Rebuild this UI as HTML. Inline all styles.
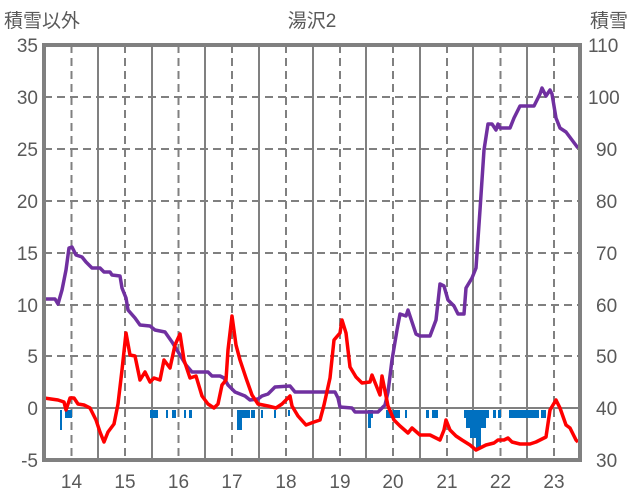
<!DOCTYPE html><html><head><meta charset="utf-8"><style>body{margin:0;background:#fff}svg{display:block}text{font-family:"Liberation Sans","Noto Sans CJK JP",sans-serif;fill:#595959}</style></head><body>
<svg width="636" height="501" xmlns="http://www.w3.org/2000/svg">
<g stroke="#bfbfbf" stroke-width="1.5">
</g>
<g stroke="#808080" stroke-width="2" stroke-dasharray="8,5">
<line x1="44" y1="97" x2="580" y2="97"/><line x1="44" y1="149" x2="580" y2="149"/><line x1="44" y1="201" x2="580" y2="201"/><line x1="44" y1="253" x2="580" y2="253"/><line x1="44" y1="305" x2="580" y2="305"/><line x1="44" y1="356" x2="580" y2="356"/>
<line x1="71.5" y1="45" x2="71.5" y2="460"/><line x1="125" y1="45" x2="125" y2="460"/><line x1="178.5" y1="45" x2="178.5" y2="460"/><line x1="232" y1="45" x2="232" y2="460"/><line x1="286" y1="45" x2="286" y2="460"/><line x1="340" y1="45" x2="340" y2="460"/><line x1="393" y1="45" x2="393" y2="460"/><line x1="447" y1="45" x2="447" y2="460"/><line x1="500.5" y1="45" x2="500.5" y2="460"/><line x1="554" y1="45" x2="554" y2="460"/>
</g>
<g stroke="#808080" stroke-width="2">
<line x1="98" y1="45" x2="98" y2="460"/><line x1="152" y1="45" x2="152" y2="460"/><line x1="205" y1="45" x2="205" y2="460"/><line x1="259" y1="45" x2="259" y2="460"/><line x1="313" y1="45" x2="313" y2="460"/><line x1="366" y1="45" x2="366" y2="460"/><line x1="420" y1="45" x2="420" y2="460"/><line x1="473" y1="45" x2="473" y2="460"/><line x1="527" y1="45" x2="527" y2="460"/>
<line x1="44" y1="408" x2="580" y2="408"/>
</g>
<g fill="#0070c0">
<rect x="60" y="410" width="2" height="20"/><rect x="65" y="410" width="7" height="8"/><rect x="150" y="410" width="8" height="8"/><rect x="166" y="410" width="2" height="8"/><rect x="172" y="410" width="4" height="8"/><rect x="184" y="410" width="2" height="8"/><rect x="189" y="410" width="3" height="8"/>
<rect x="237" y="410" width="5" height="20"/><rect x="242" y="410" width="8" height="8"/><rect x="251" y="410" width="4" height="8"/><rect x="261" y="410" width="2" height="8"/><rect x="274" y="410" width="2" height="8"/>
<rect x="288" y="410" width="2" height="6"/><rect x="368" y="410" width="3" height="18"/><rect x="371" y="410" width="2" height="8"/><rect x="386" y="410" width="6" height="8"/><rect x="393" y="410" width="7" height="8"/><rect x="405" y="410" width="2" height="8"/>
<rect x="426" y="410" width="3" height="8"/><rect x="432" y="410" width="6" height="8"/><rect x="464" y="410" width="4" height="8"/><rect x="466" y="410" width="4" height="18"/><rect x="470" y="410" width="6" height="28"/><rect x="476" y="410" width="5" height="38"/><rect x="481" y="410" width="5" height="18"/><rect x="486" y="410" width="3" height="8"/><rect x="493" y="410" width="3" height="8"/><rect x="498" y="410" width="3" height="8"/><rect x="509" y="410" width="30" height="8"/><rect x="541" y="410" width="5" height="8"/>
</g>
<polyline fill="none" stroke="#7030a0" stroke-width="3.5" stroke-linejoin="round" points="44,299 55,299 58,304 62,290 66,270 69,248 72,247 76,255 82,257 86,262 92,268 100,268 104,272 110,272 112,275 120,276 122,288 126,298 128,310 135,318 140,325 150,326 155,330 165,332 172,342 180,355 186,365 192,372 208,372 212,376 220,376 224,378 228,385 235,392 245,396 250,400 258,399 262,396 268,394 275,387 290,386 295,392 335,392 338,398 340,407 352,408 355,412 378,412 385,405 388,392 392,360 397,330 400,314 406,316 408,310 412,322 416,334 420,336 430,336 436,320 440,284 444,286 448,300 454,306 458,314 464,314 466,288 472,278 476,268 480,210 484,150 488,124 492,124 496,130 498,124 500,128 510,128 514,118 520,106 534,106 540,94 542,88 546,96 550,90 552,94 556,118 560,128 566,132 572,140 578,148"/>
<polyline fill="none" stroke="#ff0000" stroke-width="3.5" stroke-linejoin="round" points="44,398 58,400 64,402 66,410 70,398 74,398 78,404 84,405 90,408 96,420 100,432 104,442 108,432 114,424 118,404 122,370 126,333 130,355 135,356 140,380 145,372 150,382 154,378 160,380 164,360 170,368 175,345 180,334 184,360 190,378 196,376 202,396 208,404 214,408 218,404 222,385 226,380 228,350 232,316 236,345 240,360 246,378 252,395 258,404 268,406 276,408 282,404 290,396 292,406 298,416 306,425 314,422 320,420 324,405 330,378 334,340 340,333 342,320 346,333 350,367 356,377 362,383 370,382 372,375 376,385 380,395 382,376 388,406 394,420 400,426 408,433 412,428 420,435 430,435 436,438 440,440 444,430 446,420 450,430 456,436 462,440 470,445 476,450 480,448 486,445 494,443 498,440 504,440 508,438 512,442 520,444 530,444 536,442 546,437 550,410 556,400 560,408 566,425 570,428 576,440 578,442"/>
<rect x="44" y="45" width="536" height="415" fill="none" stroke="#808080" stroke-width="4"/>
<g font-size="19" text-anchor="end">
<text x="38" y="52">35</text><text x="38" y="104">30</text><text x="38" y="156">25</text><text x="38" y="208">20</text><text x="38" y="260">15</text><text x="38" y="312">10</text><text x="38" y="363">5</text><text x="38" y="415">0</text><text x="38" y="467">-5</text>
</g>
<g font-size="19" text-anchor="start">
<text x="588" y="52">110</text><text x="588" y="104">100</text><text x="596" y="156">90</text><text x="596" y="208">80</text><text x="596" y="260">70</text><text x="596" y="312">60</text><text x="596" y="363">50</text><text x="596" y="415">40</text><text x="596" y="467">30</text>
</g>
<g font-size="19" text-anchor="middle">
<text x="71.5" y="488">14</text><text x="125" y="488">15</text><text x="178.5" y="488">16</text><text x="232" y="488">17</text><text x="286" y="488">18</text><text x="340" y="488">19</text><text x="393" y="488">20</text><text x="447" y="488">21</text><text x="500.5" y="488">22</text><text x="554" y="488">23</text>
</g>
<text x="4" y="27" font-size="19">積雪以外</text>
<text x="312" y="27" font-size="19" text-anchor="middle">湯沢2</text>
<text x="590" y="27" font-size="19">積雪</text>
</svg></body></html>
